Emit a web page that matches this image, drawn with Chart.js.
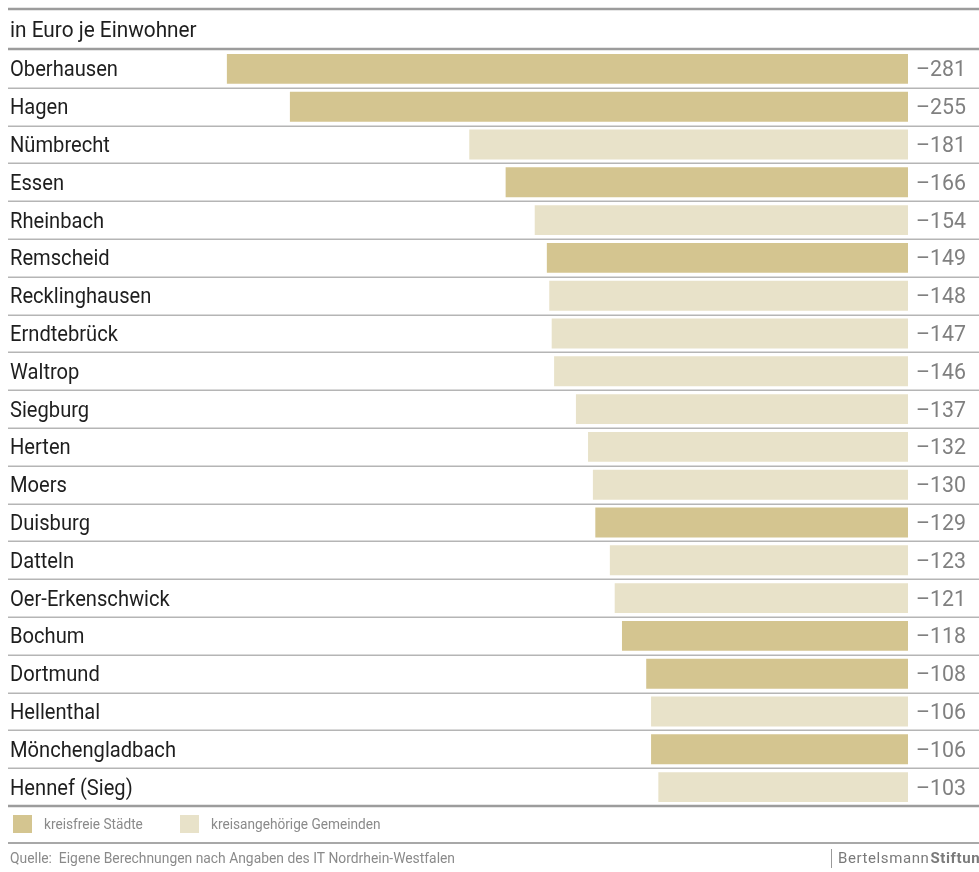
<!DOCTYPE html>
<html>
<head>
<meta charset="utf-8">
<script src="https://cdn.jsdelivr.net/npm/chart.js@4"></script>
<style>
  html, body { margin: 0; padding: 0; background: #fff; }
  #wrap { position: relative; width: 979px; height: 872px; }
</style>
</head>
<body>
<div id="wrap"><canvas id="chart"></canvas></div>
<script>
const categories = ["Oberhausen", "Hagen", "Nümbrecht", "Essen", "Rheinbach", "Remscheid",
  "Recklinghausen", "Erndtebrück", "Waltrop", "Siegburg", "Herten", "Moers", "Duisburg",
  "Datteln", "Oer-Erkenschwick", "Bochum", "Dortmund", "Hellenthal", "Mönchengladbach", "Hennef (Sieg)"];
const values = [-281, -255, -181, -166, -154, -149, -148, -147, -146, -137,
  -132, -130, -129, -123, -121, -118, -108, -106, -106, -103];
// 1 = kreisfreie Stadt, 0 = kreisangehörige Gemeinde
const kreisfrei = [1, 1, 0, 1, 0, 1, 0, 0, 0, 0, 0, 0, 1, 0, 0, 1, 1, 0, 1, 0];
const seriesNames = ["kreisfreie Städte", "kreisangehörige Gemeinden"];
const seriesColors = ["#d4c590", "#e8e2c9"];
const unitLabel = "in Euro je Einwohner";
const sourceText = "Quelle:  Eigene Berechnungen nach Angaben des IT Nordrhein-Westfalen";

const FONT = 'Roboto, "DejaVu Sans", sans-serif';

const fmt = v => (v < 0 ? "\u2013" : "") + Math.abs(v);

// condensed text: squeeze horizontally, the installed fonts have no narrow cut
function narrowText(ctx, text, x, y, sx) {
  ctx.save();
  ctx.translate(x, y);
  ctx.scale(sx, 1);
  ctx.fillText(text, 0, 0);
  ctx.restore();
}

const decor = {
  id: "decor",
  afterDraw(chart) {
    const ctx = chart.ctx;
    const area = chart.chartArea;
    const y = chart.scales.y;
    const n = categories.length;
    const rowH = (area.bottom - area.top) / n;
    ctx.save();

    // row separators
    ctx.strokeStyle = "#b5b5b5";
    ctx.lineWidth = 1.5;
    for (let i = 1; i < n; i++) {
      const yy = Math.round(area.top + rowH * i) + 0.25;
      ctx.beginPath(); ctx.moveTo(8, yy); ctx.lineTo(979, yy); ctx.stroke();
    }
    // heavy rules
    ctx.strokeStyle = "#9c9c9c";
    ctx.lineWidth = 2.5;
    [9, area.top - 1, area.bottom].forEach(yy => {
      ctx.beginPath(); ctx.moveTo(8, yy); ctx.lineTo(979, yy); ctx.stroke();
    });
    ctx.lineWidth = 2;
    ctx.strokeStyle = "#a8a8a8";
    ctx.beginPath(); ctx.moveTo(8, 843); ctx.lineTo(979, 843); ctx.stroke();

    // unit label
    ctx.fillStyle = "#1e1e1e";
    ctx.font = "22px " + FONT;
    ctx.textBaseline = "middle";
    ctx.textAlign = "left";
    narrowText(ctx, unitLabel, 10, 31, 0.945);

    // category labels and values
    categories.forEach((c, i) => {
      const cy = y.getPixelForValue(i) + 2;
      ctx.fillStyle = "#1e1e1e";
      narrowText(ctx, c, 10, cy, 0.915);
      ctx.fillStyle = "#808080";
      narrowText(ctx, fmt(values[i]), 916, cy, 0.97);
    });

    // legend
    ctx.font = "15px " + FONT;
    const lx = [13, 180];
    seriesNames.forEach((s, k) => {
      ctx.fillStyle = seriesColors[k];
      ctx.fillRect(lx[k], 815, 19, 18);
      ctx.fillStyle = "#8a8a8a";
      narrowText(ctx, s, lx[k] + 31, 825, 0.91);
    });

    // footer
    ctx.font = "14px " + FONT;
    ctx.fillStyle = "#8a8a8a";
    narrowText(ctx, sourceText, 10, 859, 0.99);
    ctx.strokeStyle = "#9a9a9a";
    ctx.lineWidth = 1;
    ctx.beginPath(); ctx.moveTo(831.5, 849); ctx.lineTo(831.5, 868); ctx.stroke();
    ctx.font = "15px " + FONT;
    ctx.letterSpacing = "0.6px";
    ctx.fillStyle = "#7a7a7a";
    ctx.fillText("Bertelsmann", 838, 859);
    const w = ctx.measureText("Bertelsmann").width;
    ctx.font = "bold 15px " + FONT;
    ctx.fillText("Stiftung", 838 + w + 1, 859);
    ctx.restore();
  }
};

new Chart(document.getElementById("chart"), {
  type: "bar",
  data: {
    labels: categories,
    datasets: seriesNames.map((name, k) => ({
      label: name,
      data: values.map((v, i) => (kreisfrei[i] === (k === 0 ? 1 : 0) ? v : null)),
      backgroundColor: seriesColors[k],
      borderWidth: 0,
      barPercentage: 1,
      categoryPercentage: 0.79
    }))
  },
  options: {
    indexAxis: "y",
    responsive: true,
    maintainAspectRatio: false,
    animation: false,
    layout: { padding: { top: 50, bottom: 66, left: 0, right: 71 } },
    plugins: { legend: { display: false }, tooltip: { enabled: false } },
    scales: {
      x: { display: false, stacked: true, min: -374.6, max: 0 },
      y: { display: false, stacked: true }
    }
  },
  plugins: [decor]
});
</script>
</body>
</html>
